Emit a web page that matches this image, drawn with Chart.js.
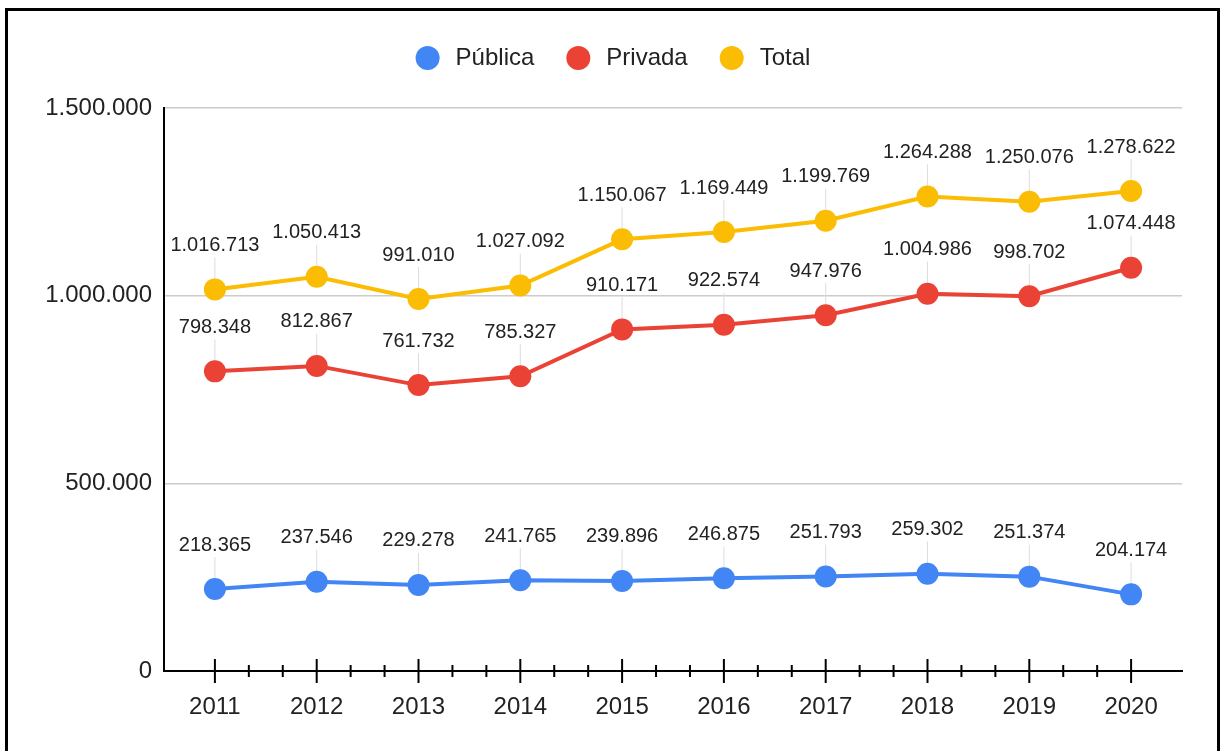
<!DOCTYPE html>
<html>
<head>
<meta charset="utf-8">
<script src="https://cdn.jsdelivr.net/npm/chart.js@4.4.0/dist/chart.umd.min.js"></script>
<style>
  html, body { margin: 0; padding: 0; background: #fff; overflow: hidden; }
  #wrap { position: relative; width: 1221px; height: 751px; }
  #frame { position: absolute; left: 5px; top: 8px; width: 1209px; height: 800px;
           border: 3px solid #000; border-bottom: none; pointer-events: none; }
  #chart { position: absolute; left: 0; top: 0; }
</style>
</head>
<body>
<div id="wrap">
  <canvas id="chart" width="1221" height="751"></canvas>
  <div id="frame"></div>
</div>
<script>
const years = ['2011', '2012', '2013', '2014', '2015', '2016', '2017', '2018', '2019', '2020'];
const publica = [218365, 237546, 229278, 241765, 239896, 246875, 251793, 259302, 251374, 204174];
const privada = [798348, 812867, 761732, 785327, 910171, 922574, 947976, 1004986, 998702, 1074448];
const total = [1016713, 1050413, 991010, 1027092, 1150067, 1169449, 1199769, 1264288, 1250076, 1278622];
const yTicks = [0, 500000, 1000000, 1500000];

const FONT = "'Liberation Sans', Arial, sans-serif";
const TEXT = '#222222';

// 1.234.567 style thousands separator
function fmt(v) {
  return String(v).replace(/\B(?=(\d{3})+(?!\d))/g, '.');
}

// centred legend row: dot, gap, label
const dotLegend = {
  id: 'dotLegend',
  afterDraw(chart) {
    const ctx = chart.ctx;
    const r = 12, gap = 16, spacing = 32, cy = 58, cx = 613;
    ctx.save();
    ctx.font = '24px ' + FONT;
    ctx.textBaseline = 'middle';
    const items = chart.data.datasets.map((ds) => ({
      label: ds.label,
      color: ds.borderColor,
      w: r * 2 + gap + ctx.measureText(ds.label).width
    }));
    const full = items.reduce((s, it) => s + it.w, 0) + spacing * (items.length - 1);
    let x = cx - full / 2;
    items.forEach((it) => {
      ctx.fillStyle = it.color;
      ctx.beginPath();
      ctx.arc(x + r, cy, r, 0, Math.PI * 2);
      ctx.fill();
      ctx.fillStyle = TEXT;
      ctx.fillText(it.label, x + r * 2 + gap, cy);
      x += it.w + spacing;
    });
    ctx.restore();
  }
};

// major ticks crossing the x axis, two minor ticks between categories
const axisTicks = {
  id: 'axisTicks',
  afterDraw(chart) {
    const ctx = chart.ctx;
    const x = chart.scales.x;
    const y0 = chart.scales.y.getPixelForValue(0);
    ctx.save();
    ctx.strokeStyle = '#000';
    ctx.lineWidth = 2;
    const seg = (px, h) => {
      ctx.beginPath();
      ctx.moveTo(px, y0 - h);
      ctx.lineTo(px, y0 + h);
      ctx.stroke();
    };
    years.forEach((_, i) => {
      const px = x.getPixelForValue(i);
      seg(px, 12);
      if (i < years.length - 1) {
        const nx = x.getPixelForValue(i + 1);
        seg(px + (nx - px) / 3, 6);
        seg(px + (nx - px) * 2 / 3, 6);
      }
    });
    ctx.restore();
  }
};

// value labels above each point with a thin leader line
const LABEL_RISE = 44;
const pointLabels = {
  id: 'pointLabels',
  beforeDatasetsDraw(chart) {
    const ctx = chart.ctx;
    ctx.save();
    ctx.strokeStyle = '#dddddd';
    ctx.lineWidth = 1;
    chart.data.datasets.forEach((ds, di) => {
      chart.getDatasetMeta(di).data.forEach((pt) => {
        ctx.beginPath();
        ctx.moveTo(pt.x, pt.y - LABEL_RISE + 12);
        ctx.lineTo(pt.x, pt.y);
        ctx.stroke();
      });
    });
    ctx.restore();
  },
  afterDatasetsDraw(chart) {
    const ctx = chart.ctx;
    ctx.save();
    ctx.fillStyle = TEXT;
    ctx.font = '20px ' + FONT;
    ctx.textAlign = 'center';
    ctx.textBaseline = 'middle';
    chart.data.datasets.forEach((ds, di) => {
      chart.getDatasetMeta(di).data.forEach((pt, i) => {
        ctx.fillText(fmt(ds.data[i]), pt.x, pt.y - LABEL_RISE);
      });
    });
    ctx.restore();
  }
};

function series(label, data, color) {
  return {
    label,
    data,
    borderColor: color,
    backgroundColor: color,
    borderWidth: 4,
    pointRadius: 11,
    pointHoverRadius: 11,
    pointBorderWidth: 0,
    tension: 0
  };
}

new Chart(document.getElementById('chart'), {
  type: 'line',
  data: {
    labels: years,
    datasets: [
      series('Pública', publica, '#4285F4'),
      series('Privada', privada, '#EA4335'),
      series('Total', total, '#FBBC04')
    ]
  },
  options: {
    responsive: false,
    animation: false,
    events: [],
    layout: { padding: { top: 108, left: 0, right: 39, bottom: 0 } },
    plugins: {
      tooltip: { enabled: false },
      legend: { display: false }
    },
    scales: {
      x: {
        offset: true,
        grid: { display: false, drawTicks: false },
        border: { display: true, color: '#000', width: 2 },
        ticks: { color: TEXT, padding: 22, font: { family: FONT, size: 24 } },
        afterFit(scale) { scale.height = 80; }
      },
      y: {
        min: 0,
        max: 1500000,
        afterBuildTicks(scale) { scale.ticks = yTicks.map((v) => ({ value: v })); },
        grid: {
          drawTicks: false,
          lineWidth: 1.5,
          color: (c) => (c.tick && c.tick.value === 0 ? 'rgba(0,0,0,0)' : '#cccccc')
        },
        border: { display: true, color: '#000', width: 2 },
        ticks: {
          color: TEXT,
          padding: 12,
          font: { family: FONT, size: 24 },
          callback: (v) => fmt(v)
        },
        afterFit(scale) { scale.width = 164; }
      }
    }
  },
  plugins: [axisTicks, pointLabels, dotLegend]
});
</script>
</body>
</html>
